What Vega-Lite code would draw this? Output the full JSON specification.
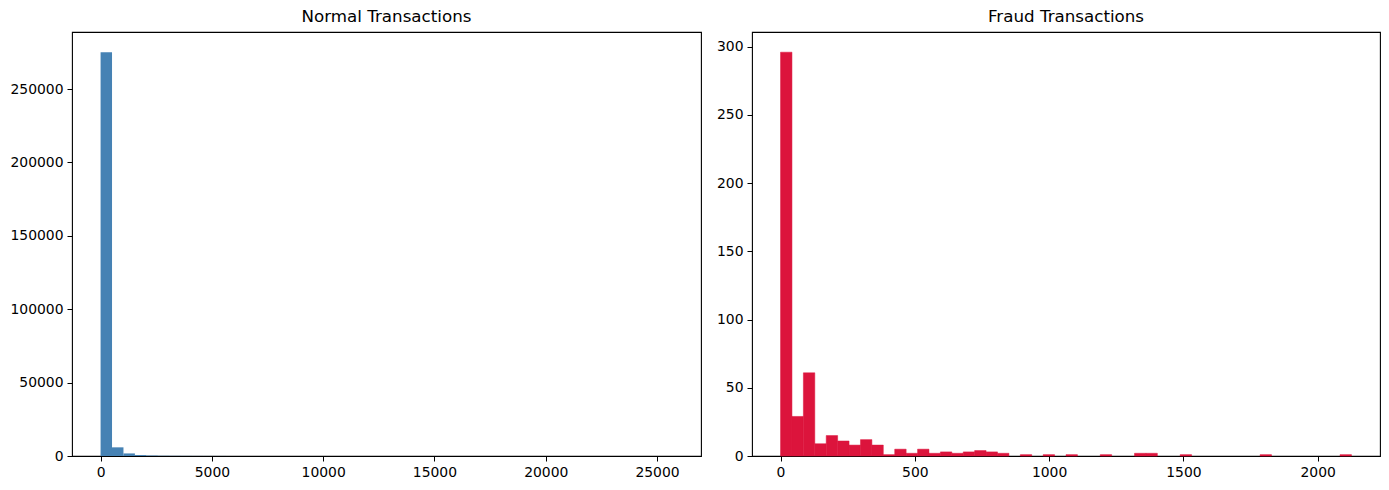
{
  "$schema": "https://vega.github.io/schema/vega-lite/v6.json",
  "padding": {"left": 9, "top": 8, "right": 0, "bottom": 0},
  "spacing": 13,
  "background": "white",
  "config": {
    "view": {"stroke": "black", "strokeWidth": 1.1},
    "font": "DejaVu Sans",
    "axis": {
      "domain": false,
      "grid": false,
      "ticks": true,
      "tickColor": "black",
      "tickSize": 5,
      "tickWidth": 1,
      "labelColor": "black",
      "labelFont": "DejaVu Sans",
      "labelFontSize": 13.9,
      "labelPadding": 4,
      "labelFlush": false,
      "labelOverlap": false,
      "title": null
    },
    "title": {"font": "DejaVu Sans", "fontSize": 16.7, "fontWeight": "normal", "color": "black", "offset": 6}
  },
  "datasets": {
    "normal": [
      {"start": 0, "end": 513.82, "count": 275100},
      {"start": 513.82, "end": 1027.65, "count": 5900},
      {"start": 1027.65, "end": 1541.47, "count": 1750},
      {"start": 1541.47, "end": 2055.29, "count": 650},
      {"start": 2055.29, "end": 2569.12, "count": 330},
      {"start": 2569.12, "end": 3082.94, "count": 190},
      {"start": 3082.94, "end": 3596.76, "count": 120},
      {"start": 3596.76, "end": 4110.59, "count": 80},
      {"start": 4110.59, "end": 4624.41, "count": 50},
      {"start": 4624.41, "end": 5138.23, "count": 35},
      {"start": 5138.23, "end": 5652.06, "count": 25},
      {"start": 5652.06, "end": 6165.88, "count": 18},
      {"start": 6165.88, "end": 6679.70, "count": 13},
      {"start": 6679.70, "end": 7193.52, "count": 10},
      {"start": 7193.52, "end": 7707.35, "count": 8},
      {"start": 7707.35, "end": 8221.17, "count": 6},
      {"start": 8221.17, "end": 8734.99, "count": 5},
      {"start": 8734.99, "end": 9248.82, "count": 4},
      {"start": 9248.82, "end": 9762.64, "count": 3},
      {"start": 9762.64, "end": 10276.46, "count": 3},
      {"start": 10276.46, "end": 10790.29, "count": 2},
      {"start": 10790.29, "end": 11304.11, "count": 2},
      {"start": 11304.11, "end": 11817.93, "count": 2},
      {"start": 11817.93, "end": 12331.76, "count": 1},
      {"start": 12331.76, "end": 12845.58, "count": 1},
      {"start": 12845.58, "end": 13359.40, "count": 1},
      {"start": 13359.40, "end": 13873.23, "count": 1},
      {"start": 13873.23, "end": 14387.05, "count": 1},
      {"start": 15414.70, "end": 15928.52, "count": 1},
      {"start": 17983.81, "end": 18497.64, "count": 1},
      {"start": 19525.28, "end": 20039.11, "count": 1},
      {"start": 25177.34, "end": 25691.16, "count": 1}
    ],
    "fraud": [
      {"start": 0, "end": 42.52, "count": 296},
      {"start": 42.52, "end": 85.03, "count": 29},
      {"start": 85.03, "end": 127.55, "count": 61},
      {"start": 127.55, "end": 170.07, "count": 9},
      {"start": 170.07, "end": 212.59, "count": 15},
      {"start": 212.59, "end": 255.10, "count": 11},
      {"start": 255.10, "end": 297.62, "count": 8},
      {"start": 297.62, "end": 340.14, "count": 12},
      {"start": 340.14, "end": 382.66, "count": 8},
      {"start": 382.66, "end": 425.17, "count": 1},
      {"start": 425.17, "end": 467.69, "count": 5},
      {"start": 467.69, "end": 510.21, "count": 2},
      {"start": 510.21, "end": 552.73, "count": 5},
      {"start": 552.73, "end": 595.24, "count": 2},
      {"start": 595.24, "end": 637.76, "count": 3},
      {"start": 637.76, "end": 680.28, "count": 2},
      {"start": 680.28, "end": 722.80, "count": 3},
      {"start": 722.80, "end": 765.31, "count": 4},
      {"start": 765.31, "end": 807.83, "count": 3},
      {"start": 807.83, "end": 850.35, "count": 2},
      {"start": 892.87, "end": 935.38, "count": 1},
      {"start": 977.90, "end": 1020.42, "count": 1},
      {"start": 1062.94, "end": 1105.45, "count": 1},
      {"start": 1190.49, "end": 1233.01, "count": 1},
      {"start": 1318.04, "end": 1360.56, "count": 2},
      {"start": 1360.56, "end": 1403.08, "count": 2},
      {"start": 1488.11, "end": 1530.63, "count": 1},
      {"start": 1785.73, "end": 1828.25, "count": 1},
      {"start": 2083.35, "end": 2125.87, "count": 1}
    ]
  },
  "hconcat": [
    {
      "title": "Normal Transactions",
      "width": 629,
      "height": 424,
      "data": {"name": "normal"},
      "mark": {"type": "bar", "color": "#4682b4"},
      "encoding": {
        "x": {"field": "start", "type": "quantitative",
              "scale": {"domain": [-1284.56, 26975.72], "nice": false, "zero": false},
              "axis": {"values": [0, 5000, 10000, 15000, 20000, 25000], "format": "d"}},
        "x2": {"field": "end"},
        "y": {"field": "count", "type": "quantitative",
              "scale": {"domain": [0, 288855], "nice": false},
              "axis": {"values": [0, 50000, 100000, 150000, 200000, 250000], "format": "d"}},
        "y2": {"datum": 0}
      }
    },
    {
      "title": "Fraud Transactions",
      "width": 628,
      "height": 424,
      "data": {"name": "fraud"},
      "mark": {"type": "bar", "color": "#dc143c", "stroke": "#dc143c", "strokeWidth": 0.5},
      "encoding": {
        "x": {"field": "start", "type": "quantitative",
              "scale": {"domain": [-106.29, 2232.16], "nice": false, "zero": false},
              "axis": {"values": [0, 500, 1000, 1500, 2000], "format": "d"}},
        "x2": {"field": "end"},
        "y": {"field": "count", "type": "quantitative",
              "scale": {"domain": [0, 310.8], "nice": false},
              "axis": {"values": [0, 50, 100, 150, 200, 250, 300], "format": "d"}},
        "y2": {"datum": 0}
      }
    }
  ]
}
